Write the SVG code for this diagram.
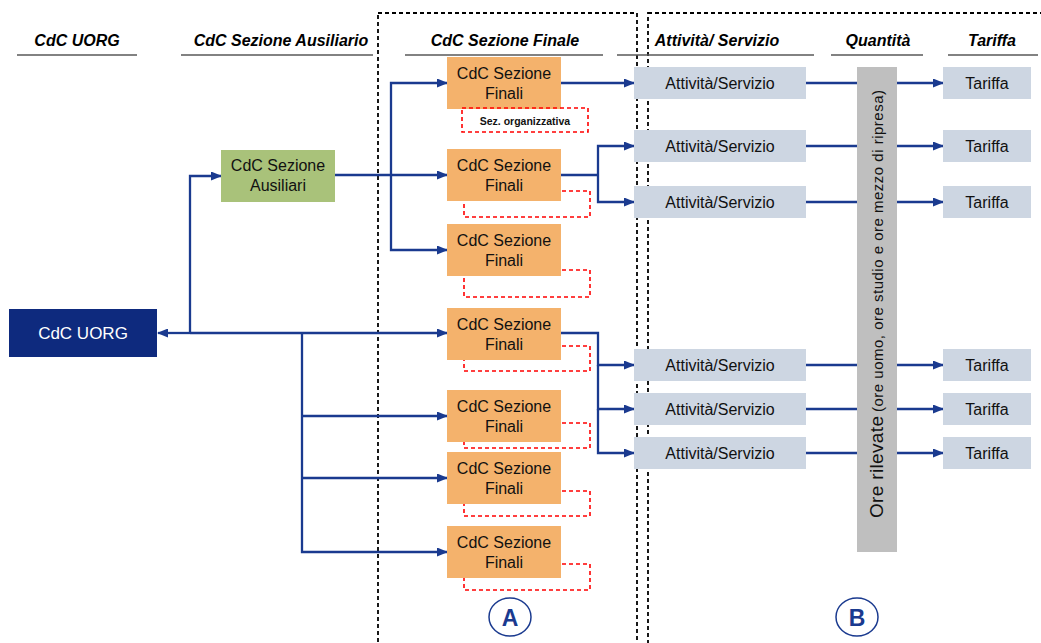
<svg xmlns="http://www.w3.org/2000/svg" width="1041" height="643" viewBox="0 0 1041 643">
<defs>
<marker id="arr" markerUnits="userSpaceOnUse" markerWidth="11" markerHeight="9" refX="10" refY="4.5" orient="auto" viewBox="0 0 11 9">
<path d="M0,0 L11,4.5 L0,9 z" fill="#1A3A8F"/>
</marker>
<style>
.hdr{font-family:"Liberation Sans",Arial,sans-serif;font-weight:bold;font-style:italic;font-size:16px;fill:#000;text-anchor:middle}
.ul{stroke:#595959;stroke-width:1.5;fill:none}
.frame{stroke:#000;stroke-width:1.8;stroke-dasharray:4 3;fill:none}
.fin{fill:#F4B26C}
.red{stroke:#FF0000;stroke-width:1.6;stroke-dasharray:4 3;fill:none}
.t{font-family:"Liberation Sans",Arial,sans-serif;font-size:16px;fill:#111;text-anchor:middle}
.act{fill:#CDD6E2}
.c{stroke:#1A3A8F;stroke-width:2.3;fill:none}
.ca{stroke:#1A3A8F;stroke-width:2.3;fill:none;marker-end:url(#arr)}
.circ{stroke:#1A3A8F;stroke-width:1.5;fill:#fff}
.lt{font-family:"Liberation Sans",Arial,sans-serif;font-weight:bold;font-size:23px;fill:#1A3A8F;text-anchor:middle}
</style>
</defs>
<rect width="1041" height="643" fill="#fff"/>

<g id="frames">
<rect class="frame" x="378" y="13" width="259" height="640"/>
<rect class="frame" x="648" y="13" width="400" height="640"/>
</g>

<g id="headers">
<text class="hdr" x="77" y="46">CdC UORG</text>
<line class="ul" x1="17" y1="55" x2="137" y2="55"/>
<text class="hdr" x="281" y="46">CdC Sezione Ausiliario</text>
<line class="ul" x1="181" y1="55" x2="373" y2="55"/>
<text class="hdr" x="505" y="46">CdC Sezione Finale</text>
<line class="ul" x1="405" y1="55" x2="603" y2="55"/>
<text class="hdr" x="717" y="46">Attività/ Servizio</text>
<line class="ul" x1="617" y1="55" x2="814" y2="55"/>
<text class="hdr" x="878" y="46">Quantità</text>
<line class="ul" x1="831" y1="55" x2="923" y2="55"/>
<text class="hdr" x="992" y="46">Tariffa</text>
<line class="ul" x1="948" y1="55" x2="1038" y2="55"/>
</g>

<g id="connectors">
<path class="ca" d="M190,333 H158"/>
<path class="ca" d="M190,333 H447"/>
<path class="ca" d="M190,333 V176 H221"/>
<path class="ca" d="M302,333 V552 H447"/>
<path class="ca" d="M302,416 H447"/>
<path class="ca" d="M302,478 H447"/>
<path class="ca" d="M335,175 H447"/>
<path class="ca" d="M391,175 V83 H447"/>
<path class="ca" d="M391,175 V250 H447"/>
<path class="ca" d="M561,83 H634"/>
<path class="c" d="M561,175 H598"/>
<path class="ca" d="M598,175 V146 H634"/>
<path class="ca" d="M598,175 V202 H634"/>
<path class="ca" d="M561,333 H598 V365 H634"/>
<path class="ca" d="M598,365 V409 H634"/>
<path class="ca" d="M598,409 V453 H634"/>
<path class="c" d="M806,83 H857 M806,146 H857 M806,202 H857 M806,365 H857 M806,409 H857 M806,453 H857"/>
<path class="ca" d="M897,83 H943"/>
<path class="ca" d="M897,146 H943"/>
<path class="ca" d="M897,202 H943"/>
<path class="ca" d="M897,365 H943"/>
<path class="ca" d="M897,409 H943"/>
<path class="ca" d="M897,453 H943"/>
</g>

<g id="uorg">
<rect x="9" y="309" width="148" height="48" fill="#0E2A7E"/>
<text class="t" x="83" y="339" style="fill:#fff;font-size:17px">CdC UORG</text>
</g>

<g id="ausiliari">
<rect x="221" y="150" width="114" height="52" fill="#A9C27A"/>
<text class="t" x="278" y="170.5">CdC Sezione</text>
<text class="t" x="278" y="191">Ausiliari</text>
</g>

<g id="finali1">
<rect class="fin" x="447" y="57" width="114" height="52"/>
<text class="t" x="504" y="79">CdC Sezione</text>
<text class="t" x="504" y="99">Finali</text>
<rect class="red" x="462" y="108" width="126" height="24"/>
<text x="525" y="124.5" style="font-family:'Liberation Sans',Arial,sans-serif;font-weight:bold;font-size:10.5px;fill:#111;text-anchor:middle">Sez. organizzativa</text>
</g>

<g id="finali2">
<rect class="red" x="464" y="191" width="126" height="26"/>
<rect class="fin" x="447" y="149" width="114" height="52"/>
<text class="t" x="504" y="171">CdC Sezione</text>
<text class="t" x="504" y="191">Finali</text>
</g>

<g id="finali3">
<rect class="red" x="464" y="270" width="126" height="27"/>
<rect class="fin" x="447" y="224" width="114" height="52"/>
<text class="t" x="504" y="246">CdC Sezione</text>
<text class="t" x="504" y="266">Finali</text>
</g>

<g id="finali4">
<rect class="red" x="464" y="346" width="126" height="25"/>
<rect class="fin" x="447" y="308" width="114" height="52"/>
<text class="t" x="504" y="330">CdC Sezione</text>
<text class="t" x="504" y="350">Finali</text>
</g>

<g id="finali5">
<rect class="red" x="464" y="423" width="126" height="25"/>
<rect class="fin" x="447" y="390" width="114" height="52"/>
<text class="t" x="504" y="412">CdC Sezione</text>
<text class="t" x="504" y="432">Finali</text>
</g>

<g id="finali6">
<rect class="red" x="464" y="491" width="126" height="25"/>
<rect class="fin" x="447" y="452" width="114" height="52"/>
<text class="t" x="504" y="474">CdC Sezione</text>
<text class="t" x="504" y="494">Finali</text>
</g>

<g id="finali7">
<rect class="red" x="464" y="564" width="126" height="26"/>
<rect class="fin" x="447" y="526" width="114" height="52"/>
<text class="t" x="504" y="548">CdC Sezione</text>
<text class="t" x="504" y="568">Finali</text>
</g>

<g id="attivita1"><rect class="act" x="634" y="67" width="172" height="32"/><text class="t" x="720" y="89">Attività/Servizio</text></g>
<g id="attivita2"><rect class="act" x="634" y="130" width="172" height="32"/><text class="t" x="720" y="152">Attività/Servizio</text></g>
<g id="attivita3"><rect class="act" x="634" y="186" width="172" height="32"/><text class="t" x="720" y="208">Attività/Servizio</text></g>
<g id="attivita4"><rect class="act" x="634" y="349" width="172" height="32"/><text class="t" x="720" y="371">Attività/Servizio</text></g>
<g id="attivita5"><rect class="act" x="634" y="393" width="172" height="32"/><text class="t" x="720" y="415">Attività/Servizio</text></g>
<g id="attivita6"><rect class="act" x="634" y="437" width="172" height="32"/><text class="t" x="720" y="459">Attività/Servizio</text></g>

<g id="quantita">
<rect x="857" y="67" width="40" height="485" fill="#BFBFBF"/>
<text transform="translate(883,518) rotate(-90)" x="0" y="0" textLength="102" style="font-family:'Liberation Sans',Arial,sans-serif;font-size:19px;fill:#111">Ore rilevate</text>
<text transform="translate(883,518) rotate(-90)" x="106" y="0" textLength="322" style="font-family:'Liberation Sans',Arial,sans-serif;font-size:15px;fill:#111">(ore uomo, ore studio e ore mezzo di ripresa)</text>
</g>

<g id="tariffa1"><rect class="act" x="943" y="67" width="88" height="32"/><text class="t" x="987" y="89">Tariffa</text></g>
<g id="tariffa2"><rect class="act" x="943" y="130" width="88" height="32"/><text class="t" x="987" y="152">Tariffa</text></g>
<g id="tariffa3"><rect class="act" x="943" y="186" width="88" height="32"/><text class="t" x="987" y="208">Tariffa</text></g>
<g id="tariffa4"><rect class="act" x="943" y="349" width="88" height="32"/><text class="t" x="987" y="371">Tariffa</text></g>
<g id="tariffa5"><rect class="act" x="943" y="393" width="88" height="32"/><text class="t" x="987" y="415">Tariffa</text></g>
<g id="tariffa6"><rect class="act" x="943" y="437" width="88" height="32"/><text class="t" x="987" y="459">Tariffa</text></g>

<g id="labelA">
<ellipse class="circ" cx="510" cy="617" rx="21" ry="19"/>
<text class="lt" x="510" y="625.5">A</text>
</g>
<g id="labelB">
<ellipse class="circ" cx="857" cy="617" rx="21" ry="19"/>
<text class="lt" x="857" y="625.5">B</text>
</g>
</svg>
